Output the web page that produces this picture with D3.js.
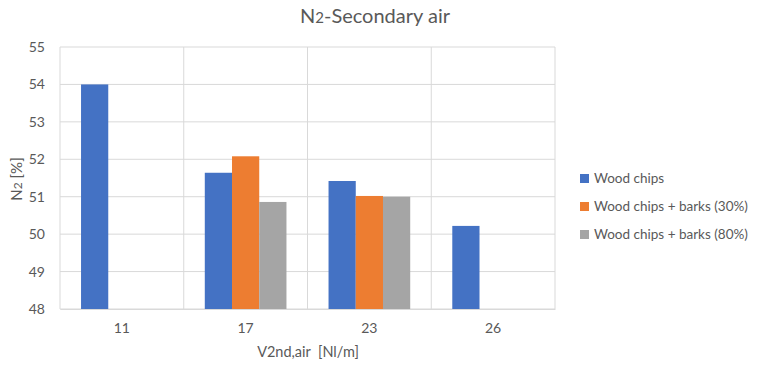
<!DOCTYPE html>
<html><head><meta charset="utf-8">
<script src="https://cdn.jsdelivr.net/npm/d3@7"></script>
<style>body{margin:0;background:#fff}text{font-family:Lato,"Open Sans",sans-serif;fill:#595959}</style>
</head><body><svg id="c" width="757" height="371"></svg>
<script>
const categories = ["11","17","23","26"];
const seriesNames = ["Wood chips","Wood chips + barks (30%)","Wood chips + barks (80%)"];
const woodChips = [54.0, 51.64, 51.42, 50.22];
const barks30 = [null, 52.08, 51.02, null];
const barks80 = [null, 50.86, 51.0, null];
const yTicks = [48,49,50,51,52,53,54,55];
const colors = ["#4472C4","#ED7D31","#A5A5A5"];
const series = [woodChips, barks30, barks80];

const svg = d3.select("#c");
const L=60, R=555, T=47, B=309;
const x = d3.scaleBand().domain(categories).range([L,R]).paddingInner(0).paddingOuter(0);
const y = d3.scaleLinear().domain([48,55]).range([B,T]);
const bw = x.bandwidth();
const inner = d3.scaleBand().domain(d3.range(3)).range([bw*0.17,bw*0.83]).padding(0);

// grid
svg.append("g").selectAll("line").data(yTicks).join("line")
  .attr("x1",L).attr("x2",R).attr("y1",d=>y(d)).attr("y2",d=>y(d))
  .attr("stroke","#d9d9d9").attr("stroke-width",1);
const vb = categories.map(c=>x(c)).concat([R]);
svg.append("g").selectAll("line").data(vb).join("line")
  .attr("x1",d=>d).attr("x2",d=>d).attr("y1",T).attr("y2",B)
  .attr("stroke","#d9d9d9").attr("stroke-width",1);

// bars
series.forEach((s,i)=>{
  svg.append("g").selectAll("rect").data(categories.map((c,j)=>({c,v:s[j]})).filter(d=>d.v!=null)).join("rect")
    .attr("x",d=>x(d.c)+inner(i)).attr("width",inner.bandwidth())
    .attr("y",d=>y(d.v)).attr("height",d=>B-y(d.v)).attr("fill",colors[i]);
});

// y axis labels
const ya = svg.append("g").attr("transform",`translate(${L},0)`).call(d3.axisLeft(y).tickValues(yTicks).tickFormat(d3.format("d")).tickSize(0).tickPadding(15));
ya.select(".domain").remove();
ya.selectAll("text").style("font-size","14px").attr("fill","#595959");
// x axis
const xa = svg.append("g").attr("transform",`translate(0,${B})`).call(d3.axisBottom(x).tickSize(0).tickPadding(14));
xa.select(".domain").attr("stroke","#d9d9d9");
xa.selectAll("text").style("font-size","14px").attr("fill","#595959");

// titles
const t = svg.append("text").attr("x",375).attr("y",23).attr("text-anchor","middle").style("font-size","20px");
t.append("tspan").text("N");
t.append("tspan").style("font-size","15px").text("2");
t.append("tspan").text("-Secondary air");

svg.append("text").attr("x",308).attr("y",357).attr("text-anchor","middle").style("font-size","14.5px").text("V2nd,air  [Nl/m]").attr("xml:space","preserve");
const yt = svg.append("text").attr("transform","translate(22,179) rotate(-90)").attr("text-anchor","middle").style("font-size","15px");
yt.append("tspan").text("N");
yt.append("tspan").style("font-size","12px").text("2");
yt.append("tspan").text(" [%]");

// legend
const lg = svg.append("g").attr("transform","translate(580,172)");
seriesNames.forEach((n,i)=>{
  const g = lg.append("g").attr("transform",`translate(0,${i*28})`);
  g.append("rect").attr("width",9).attr("height",9).attr("y",2).attr("fill",colors[i]);
  g.append("text").attr("x",14).attr("y",11).style("font-size","13.5px").text(n);
});
</script></body></html>
